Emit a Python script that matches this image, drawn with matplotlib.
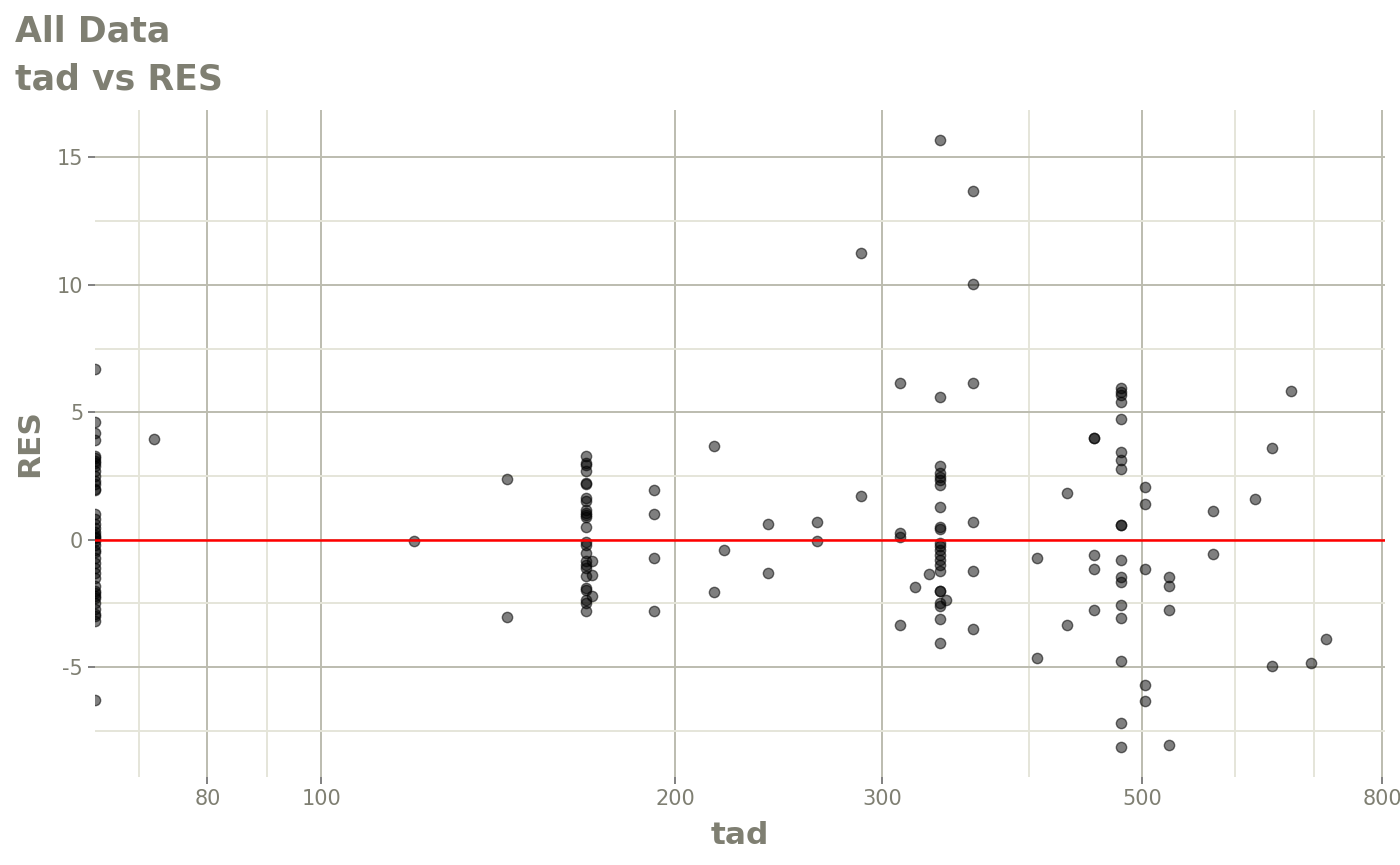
import numpy as np
import matplotlib
matplotlib.use("Agg")
import matplotlib.pyplot as plt
from matplotlib.ticker import FixedLocator, NullFormatter

plt.rcParams["axes.unicode_minus"] = False

# tad = 0 rows end up at -Inf on the log axis (panel edge), like ggplot does
tad_zero_res = [6.7, 4.6, 4.2, 3.9, 3.3, 3.2, 3.1, 3.0, 2.9, 2.7, 2.5, 2.3, 2.2,
                2.0, 1.95, 1.0, 0.8, 0.6, 0.45, 0.3, 0.2, 0.1, 0.05, -0.05, -0.2,
                -0.4, -0.5, -0.7, -0.9, -1.1, -1.3, -1.5, -1.8, -2.0, -2.1, -2.2,
                -2.3, -2.5, -2.7, -2.9, -3.0, -3.2, -6.3]

tad = [72, 120, 144, 144,
       168, 168, 168, 168, 168, 168, 168, 168, 168, 168, 168, 168, 168,
       168, 168, 168, 168, 168, 168, 168, 168, 168, 168, 168, 168,
       170, 170, 170,
       192, 192, 192, 192,
       216, 216, 220, 240, 240, 264, 264, 288, 288,
       311, 311, 311, 311, 320, 329,
       336, 336, 336, 336, 336, 336, 336, 336, 336, 336, 336, 336, 336, 336,
       336, 336, 336, 336, 336, 336, 336, 336, 336, 340,
       359, 359, 359, 359, 359, 359,
       407, 407, 431, 431,
       455, 455, 455, 455, 455,
       479, 479, 479, 479, 479, 479, 479, 479, 479, 479, 479, 479, 479, 479,
       479, 479, 479, 479,
       503, 503, 503, 503, 503,
       527, 527, 527, 527,
       574, 574, 624, 645, 645, 669, 696, 717]

res = [3.96, -0.04, 2.4, -3.05,
       3.29, 3.0, 2.94, 2.68, 2.24, 2.18, 1.63, 1.5, 1.18, 1.04, 0.98, 0.91, 0.5,
       -0.07, -0.2, -0.52, -0.85, -0.98, -1.11, -1.44, -1.89, -1.96, -2.35, -2.48, -2.81,
       -0.85, -1.37, -2.22,
       1.96, 1.02, -0.72, -2.81,
       3.69, -2.06, -0.39, 0.61, -1.29, 0.69, -0.04, 1.72, 11.24,
       6.15, 0.26, 0.1, -3.33, -1.87, -1.34,
       15.67, 5.6, 2.9, 2.61, 2.48, 2.35, 2.15, 1.3, 0.5, 0.42, -0.13, -0.26,
       -0.39, -0.59, -0.78, -0.98, -1.24, -2.02, -2.02, -2.48, -2.61, -3.13, -4.05, -2.35,
       13.7, 10.03, 6.15, 0.68, -1.24, -3.5,
       -0.73, -4.66, 1.85, -3.33,
       3.98, 3.98, -0.61, -1.14, -2.74,
       5.94, 5.81, 5.68, 5.42, 4.74, 3.46, 3.11, 2.77, 0.56, 0.56, -0.81, -1.46,
       -1.66, -2.55, -3.07, -4.74, -7.21, -8.12,
       2.05, 1.41, -1.15, -5.71, -6.33,
       -1.46, -1.83, -2.74, -8.06,
       1.14, -0.55, 1.61, 3.6, -4.94, 5.84, -4.82, -3.88]

x_major = [80, 100, 200, 300, 500, 800]
x_minor = [70, 90, 400, 600, 700]
y_major = [-5, 0, 5, 10, 15]
y_minor = [-7.5, -2.5, 2.5, 7.5, 12.5]

TXT = "#7f7f72"
MAJ = "#bcbcaf"
MIN = "#e5e5d9"

tad = np.array(tad, dtype=float)
res = np.array(res, dtype=float)
all_res = np.concatenate([res, tad_zero_res])

# ggplot style 5% expansion (log space for x)
lx = np.log10(tad)
dx = 0.05 * (lx.max() - lx.min())
xlim = (10 ** (lx.min() - dx), 10 ** (lx.max() + dx))
dy = 0.05 * (all_res.max() - all_res.min())
ylim = (all_res.min() - dy, all_res.max() + dy)

fig = plt.figure(figsize=(14, 8.65), dpi=100)
ax = fig.add_axes([95 / 1400, 1 - 777 / 865, 1290 / 1400, 667 / 865])
ax.set_xscale("log")
ax.set_xlim(*xlim)
ax.set_ylim(*ylim)

for s in ax.spines.values():
    s.set_visible(False)

ax.xaxis.set_major_locator(FixedLocator(x_major))
ax.xaxis.set_minor_locator(FixedLocator(x_minor))
ax.xaxis.set_minor_formatter(NullFormatter())
ax.set_xticklabels([str(v) for v in x_major])
ax.yaxis.set_major_locator(FixedLocator(y_major))
ax.yaxis.set_minor_locator(FixedLocator(y_minor))
ax.set_yticklabels([str(v) for v in y_major])

ax.grid(True, which="minor", color=MIN, linewidth=1.4)
ax.grid(True, which="major", color=MAJ, linewidth=1.4)
ax.set_axisbelow(True)
ax.tick_params(which="major", length=5, width=1.4, color="#808080",
               labelcolor=TXT, labelsize=15, pad=3.5)
ax.tick_params(which="minor", length=0)

ax.scatter(tad, res, s=55, facecolor=(0, 0, 0, 0.5), edgecolor=(0, 0, 0, 0.55),
           linewidth=1.0, zorder=3)
ax.scatter(np.full(len(tad_zero_res), xlim[0]), tad_zero_res, s=55,
           facecolor=(0, 0, 0, 0.5), edgecolor=(0, 0, 0, 0.55), linewidth=1.0, zorder=3)
ax.axhline(0, color="red", linewidth=1.8, zorder=4)

fig.text(15 / 1400, 1 - 15 / 865, "All Data\ntad vs RES", ha="left", va="top",
         fontsize=25, fontweight="bold", color=TXT, linespacing=1.5)
fig.text(740 / 1400, 1 - 835 / 865, "tad", ha="center", va="center",
         fontsize=22.5, fontweight="bold", color=TXT)
fig.text(30 / 1400, 1 - 443 / 865, "RES", ha="center", va="center", rotation=90,
         fontsize=22.5, fontweight="bold", color=TXT)

fig.savefig("out.png", dpi=100, facecolor="white")
